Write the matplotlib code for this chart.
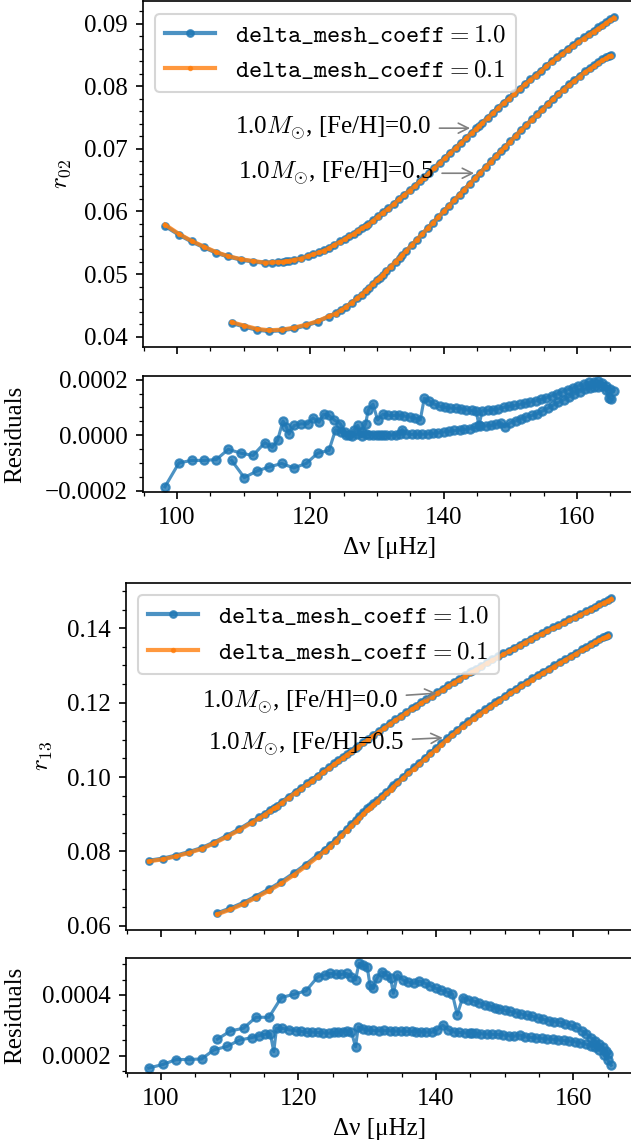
import numpy as np
import matplotlib
matplotlib.use("Agg")
import matplotlib.pyplot as plt

plt.rcParams['font.family'] = ['serif']
plt.rcParams['font.serif'] = ['Liberation Serif', 'DejaVu Serif']
plt.rcParams['mathtext.fontset'] = 'cm'
plt.rcParams['font.size'] = 12
plt.rcParams['xtick.minor.visible'] = True
plt.rcParams['ytick.minor.visible'] = True

# ---- track 1: 1.0 Msun, [Fe/H]=0.0 ----
dnu_A = [98.2, 100.3, 102.2, 104.0, 105.9, 107.7, 109.6, 111.4, 113.2, 114.3,
         115.1, 115.9, 116.4, 116.8, 117.6, 118.6, 119.6, 120.4, 121.3, 122.0,
         122.8, 123.6, 124.5, 125.2, 125.8, 126.5, 127.1, 127.7, 128.3, 128.7,
         129.4, 130.1, 130.9, 131.7, 132.5, 133.3, 134.1, 134.9, 135.7, 136.5,
         137.1, 137.8, 138.6, 139.4, 140.2, 141.0, 141.8, 142.6, 143.4, 144.2,
         144.9, 145.3, 145.8, 146.6, 147.4, 148.2, 149.0, 149.8, 150.6, 151.4,
         152.2, 153.0, 153.8, 154.6, 155.4, 156.2, 157.0, 157.8, 158.6, 159.4,
         160.2, 161.0, 161.8, 162.5, 163.2, 163.8, 164.4, 165.0, 165.5]
r02_A = [0.0577, 0.0563, 0.0552, 0.0543, 0.0534, 0.0528, 0.0523, 0.0520, 0.0518, 0.0518,
         0.0519, 0.0520, 0.0521, 0.0521, 0.0523, 0.0525, 0.0529, 0.0532, 0.0535, 0.0538,
         0.0542, 0.0547, 0.0552, 0.0556, 0.0560, 0.0564, 0.0569, 0.0573, 0.0577, 0.0580,
         0.0586, 0.0592, 0.0599, 0.0605, 0.0612, 0.0620, 0.0627, 0.0634, 0.0641, 0.0649,
         0.0655, 0.0662, 0.0670, 0.0678, 0.0686, 0.0694, 0.0702, 0.0710, 0.0718, 0.0726,
         0.0733, 0.0737, 0.0742, 0.0750, 0.0758, 0.0766, 0.0774, 0.0781, 0.0789, 0.0796,
         0.0804, 0.0811, 0.0818, 0.0825, 0.0833, 0.0840, 0.0847, 0.0853, 0.0860, 0.0866,
         0.0872, 0.0878, 0.0884, 0.0889, 0.0894, 0.0898, 0.0903, 0.0907, 0.0911]
res02_A = [-0.000186, -0.000100, -0.000091, -0.000091, -0.000088, -0.000051, -0.000065, -0.000073, -0.000027, -0.000044,
           -0.000018, 0.000051, 0.000030, 0.000004, 0.000035, 0.000041, 0.000041, 0.000062, 0.000047, 0.000076,
           0.000071, 0.000055, 0.000041, 0.000012, 0.000000, 0.000018, 0.000035, 0.000012, 0.000041, 0.000091,
           0.000112, 0.000055, 0.000076, 0.000072, 0.000071, 0.000073, 0.000069, 0.000066, 0.000062, 0.000055,
           0.000133, 0.000124, 0.000112, 0.000104, 0.000100, 0.000098, 0.000097, 0.000096, 0.000092, 0.000089,
           0.000086, 0.000035, 0.000088, 0.000090, 0.000092, 0.000095, 0.000100, 0.000104, 0.000107, 0.000111,
           0.000115, 0.000120, 0.000124, 0.000129, 0.000135, 0.000142, 0.000149, 0.000157, 0.000164, 0.000171,
           0.000178, 0.000185, 0.000191, 0.000193, 0.000194, 0.000188, 0.000178, 0.000165, 0.000159]
r13_A = [0.0775, 0.0781, 0.0789, 0.0798, 0.0809, 0.0824, 0.0842, 0.0860, 0.0880, 0.0892,
         0.0902, 0.0912, 0.0918, 0.0923, 0.0934, 0.0947, 0.0961, 0.0971, 0.0983, 0.0993,
         0.1004, 0.1015, 0.1027, 0.1037, 0.1045, 0.1055, 0.1063, 0.1071, 0.1079, 0.1084,
         0.1094, 0.1103, 0.1114, 0.1124, 0.1134, 0.1145, 0.1155, 0.1165, 0.1175, 0.1185,
         0.1192, 0.1201, 0.1210, 0.1219, 0.1228, 0.1237, 0.1247, 0.1256, 0.1264, 0.1273,
         0.1281, 0.1285, 0.1291, 0.1299, 0.1308, 0.1316, 0.1324, 0.1332, 0.1340, 0.1348,
         0.1356, 0.1364, 0.1372, 0.1380, 0.1387, 0.1395, 0.1402, 0.1409, 0.1416, 0.1424,
         0.1431, 0.1438, 0.1445, 0.1452, 0.1458, 0.1464, 0.1470, 0.1475, 0.1480]
res13_A = [0.000159, 0.000171, 0.000187, 0.000187, 0.000189, 0.000219, 0.000230, 0.000251, 0.000259, 0.000266,
           0.000270, 0.000272, 0.000213, 0.000290, 0.000290, 0.000285, 0.000282, 0.000280, 0.000276, 0.000278,
           0.000276, 0.000275, 0.000274, 0.000276, 0.000277, 0.000279, 0.000280, 0.000278, 0.000229, 0.000294,
           0.000288, 0.000284, 0.000283, 0.000282, 0.000283, 0.000282, 0.000281, 0.000281, 0.000280, 0.000280,
           0.000279, 0.000279, 0.000278, 0.000277, 0.000285, 0.000300, 0.000285, 0.000278, 0.000276, 0.000275,
           0.000274, 0.000274, 0.000273, 0.000272, 0.000271, 0.000270, 0.000270, 0.000268, 0.000266, 0.000264,
           0.000268, 0.000262, 0.000260, 0.000258, 0.000257, 0.000255, 0.000254, 0.000252, 0.000250, 0.000248,
           0.000246, 0.000242, 0.000238, 0.000233, 0.000227, 0.000218, 0.000202, 0.000185, 0.000168]

# ---- track 2: 1.0 Msun, [Fe/H]=0.5 ----
dnu_B = [108.2, 110.1, 112.0, 113.8, 115.7, 117.5, 119.4, 121.1, 122.8, 123.8,
         124.6, 125.4, 126.2, 127.0, 127.7, 128.3, 128.8, 129.4, 130.0, 130.4,
         130.9, 131.4, 132.1, 132.8, 133.4, 133.8, 134.4, 135.2, 136.0, 136.8,
         137.6, 138.4, 139.2, 140.0, 140.8, 141.6, 142.4, 143.1, 143.9, 144.7,
         145.5, 146.3, 147.1, 147.9, 148.6, 149.2, 150.0, 150.8, 151.6, 152.4,
         153.2, 154.0, 154.8, 155.6, 156.4, 157.2, 158.0, 158.8, 159.6, 160.4,
         161.2, 161.9, 162.6, 163.2, 163.8, 164.3, 164.8, 165.1]
r02_B = [0.0422, 0.0416, 0.0411, 0.0409, 0.0410, 0.0413, 0.0418, 0.0424, 0.0432, 0.0437,
         0.0442, 0.0448, 0.0454, 0.0461, 0.0467, 0.0473, 0.0478, 0.0484, 0.0490, 0.0494,
         0.0499, 0.0505, 0.0512, 0.0520, 0.0526, 0.0531, 0.0537, 0.0546, 0.0555, 0.0564,
         0.0573, 0.0582, 0.0591, 0.0600, 0.0609, 0.0618, 0.0627, 0.0635, 0.0644, 0.0653,
         0.0662, 0.0671, 0.0680, 0.0689, 0.0697, 0.0703, 0.0712, 0.0721, 0.0730, 0.0738,
         0.0747, 0.0755, 0.0763, 0.0772, 0.0780, 0.0788, 0.0796, 0.0803, 0.0810, 0.0817,
         0.0824, 0.0829, 0.0834, 0.0839, 0.0843, 0.0846, 0.0849, 0.0850]
res02_B = [-0.000091, -0.000153, -0.000129, -0.000115, -0.000102, -0.000118, -0.000102, -0.000065, -0.000055, 0.000020,
           0.000012, 0.000002, -0.000004, 0.000004, -0.000004, 0.000006, 0.000002, 0.000000, 0.000000, 0.000002,
           0.000000, 0.000000, 0.000001, 0.000002, 0.000004, 0.000020, 0.000006, 0.000003, 0.000004, 0.000004,
           0.000005, 0.000007, 0.000009, 0.000012, 0.000014, 0.000017, 0.000019, 0.000021, 0.000024, 0.000028,
           0.000032, 0.000034, 0.000035, 0.000040, 0.000045, 0.000030, 0.000045, 0.000052, 0.000060, 0.000066,
           0.000071, 0.000077, 0.000087, 0.000097, 0.000108, 0.000118, 0.000128, 0.000139, 0.000149, 0.000157,
           0.000165, 0.000170, 0.000173, 0.000175, 0.000176, 0.000163, 0.000135, 0.000130]
r13_B = [0.0634, 0.0647, 0.0662, 0.0679, 0.0698, 0.0718, 0.0742, 0.0765, 0.0790, 0.0805,
         0.0818, 0.0831, 0.0846, 0.0861, 0.0874, 0.0885, 0.0894, 0.0905, 0.0916, 0.0922,
         0.0930, 0.0938, 0.0950, 0.0961, 0.0971, 0.0978, 0.0988, 0.1001, 0.1014, 0.1026,
         0.1039, 0.1052, 0.1065, 0.1078, 0.1091, 0.1104, 0.1116, 0.1127, 0.1139, 0.1150,
         0.1161, 0.1171, 0.1182, 0.1192, 0.1201, 0.1208, 0.1218, 0.1228, 0.1237, 0.1247,
         0.1256, 0.1265, 0.1274, 0.1283, 0.1291, 0.1300, 0.1309, 0.1317, 0.1326, 0.1334,
         0.1343, 0.1350, 0.1358, 0.1364, 0.1370, 0.1375, 0.1379, 0.1382]
res13_B = [0.000254, 0.000281, 0.000290, 0.000326, 0.000326, 0.000391, 0.000402, 0.000413, 0.000459, 0.000465,
           0.000470, 0.000468, 0.000467, 0.000470, 0.000460, 0.000449, 0.000503, 0.000497, 0.000492, 0.000432,
           0.000422, 0.000454, 0.000476, 0.000465, 0.000456, 0.000405, 0.000465, 0.000449, 0.000442, 0.000438,
           0.000445, 0.000438, 0.000430, 0.000421, 0.000415, 0.000409, 0.000402, 0.000335, 0.000391, 0.000384,
           0.000379, 0.000374, 0.000368, 0.000363, 0.000358, 0.000353, 0.000349, 0.000345, 0.000341, 0.000337,
           0.000333, 0.000329, 0.000324, 0.000319, 0.000315, 0.000312, 0.000310, 0.000305, 0.000299, 0.000293,
           0.000282, 0.000272, 0.000258, 0.000249, 0.000238, 0.000228, 0.000214, 0.000205]

labels = [r'$\mathtt{delta\_mesh\_coeff} = 1.0$', r'$\mathtt{delta\_mesh\_coeff} = 0.1$']
track_names = [r'1.0$M_{\odot}$, [Fe/H]=0.0', r'1.0$M_{\odot}$, [Fe/H]=0.5']
xlabel = 'Δν [μHz]'

W, H = 632, 1148
DPI = 150
fig = plt.figure(figsize=(W / DPI, H / DPI), dpi=DPI)

ax1 = fig.add_axes([0.2255, 0.6980, 0.7809, 0.3011])
ax2 = fig.add_axes([0.2255, 0.5714, 0.7809, 0.1010], sharex=ax1)
ax3 = fig.add_axes([0.1987, 0.1899, 0.8049, 0.3026])
ax4 = fig.add_axes([0.1987, 0.0651, 0.8049, 0.1002], sharex=ax3)

tracks = [(np.array(dnu_A), np.array(r02_A), np.array(res02_A), np.array(r13_A), np.array(res13_A)),
          (np.array(dnu_B), np.array(r02_B), np.array(res02_B), np.array(r13_B), np.array(res13_B))]

blue_kw = dict(color='C0', marker='o', ms=3.2, lw=2, alpha=0.8)
orange_kw = dict(color='C1', marker='.', ms=3.2, lw=2, alpha=0.8)
res_kw = dict(color='C0', marker='o', ms=4, lw=1.5, alpha=0.8)

for main_ax, res_ax, vi, ri in [(ax1, ax2, 1, 2), (ax3, ax4, 3, 4)]:
    for k, t in enumerate(tracks):
        main_ax.plot(t[0], t[vi], label=labels[0] if k == 0 else None, **blue_kw)
    for k, t in enumerate(tracks):
        main_ax.plot(t[0], t[vi] - t[ri], label=labels[1] if k == 0 else None, **orange_kw)
    for t in tracks:
        res_ax.plot(t[0], t[ri], **res_kw)
    main_ax.legend(loc='upper left')
    main_ax.tick_params(labelbottom=False)
    res_ax.set_xlabel(xlabel)
    res_ax.set_ylabel('Residuals')
    res_ax.set_xticks([100, 120, 140, 160])

ax1.set_ylabel(r'$r_{02}$')
ax3.set_ylabel(r'$r_{13}$')
ax1.yaxis.set_label_coords(-0.141, 0.5)
ax2.yaxis.set_label_coords(-0.236, 0.5)
ax3.yaxis.set_label_coords(-0.141, 0.5)
ax4.yaxis.set_label_coords(-0.196, 0.5)

arrow = dict(arrowstyle='->', color='gray', lw=0.8)
ax1.annotate(track_names[0], xy=(144.6, 0.0733), xytext=(123.4, 0.0733),
             ha='center', va='center', arrowprops=arrow)
ax1.annotate(track_names[1], xy=(145.2, 0.0661), xytext=(123.8, 0.0661),
             ha='center', va='center', arrowprops=arrow)
ax3.annotate(track_names[0], xy=(140.7, 0.1226), xytext=(120.2, 0.1201),
             ha='center', va='center', arrowprops=arrow)
ax3.annotate(track_names[1], xy=(141.6, 0.1106), xytext=(121.1, 0.1088),
             ha='center', va='center', arrowprops=arrow)

fig.savefig('out.png', dpi=DPI)
